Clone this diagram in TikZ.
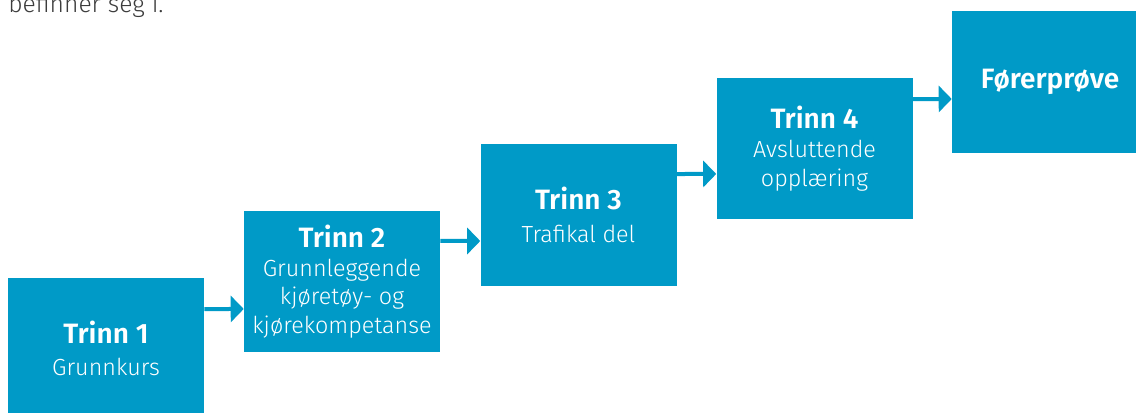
\documentclass[tikz,border=0pt]{standalone}
\usepackage{fontspec}
\setmainfont{Fira Sans Light}[BoldFont={Fira Sans SemiBold}]
\usetikzlibrary{arrows.meta}
\definecolor{trinnblue}{RGB}{0,154,199}
\definecolor{textgrey}{RGB}{60,60,60}

\begin{document}
\begin{tikzpicture}[x=0.75pt, y=-0.75pt,
  stage/.style={rectangle, fill=trinnblue, text=white, minimum width=147pt, minimum height=106pt, align=center, inner sep=0pt, font=\fontsize{17.5pt}{21.5pt}\selectfont},
  arr/.style={draw=trinnblue, line width=3pt, -{Triangle[length=9.75pt, width=19.5pt]}}]

\clip (0,0) rectangle (1136,412);

\node[anchor=base west, inner sep=0pt, text=textgrey, font=\fontsize{18.5pt}{22pt}\selectfont] (intro) at (8,12) {befinner seg i.};

\node[stage] (t1) at (106, 348.5) {{\bfseries\fontsize{21pt}{22pt}\selectfont Trinn 1}\\[3pt]Grunnkurs};
\node[stage] (t2) at (342, 281.5) {{\bfseries\fontsize{21pt}{22pt}\selectfont Trinn 2}\\Grunnleggende\\kjøretøy- og\\kjørekompetanse};
\node[stage] (t3) at (578.5, 215) {{\bfseries\fontsize{21pt}{22pt}\selectfont Trinn 3}\\[3pt]Trafikal del};
\node[stage] (t4) at (814.5, 148.5) {{\bfseries\fontsize{21pt}{22pt}\selectfont Trinn 4}\\Avsluttende\\opplæring};
\node[stage] (fp) at (1050, 82) {\bfseries\fontsize{21pt}{22pt}\selectfont Førerprøve};

\draw[arr] ([yshift=29.6pt]t1.east) -- ([yshift=-20.6pt]t2.west);
\draw[arr] ([yshift=30.4pt]t2.east) -- ([yshift=-19.5pt]t3.west);
\draw[arr] ([yshift=30.75pt]t3.east) -- ([yshift=-19.1pt]t4.west);
\draw[arr] ([yshift=37.1pt]t4.east) -- ([yshift=-12.75pt]fp.west);

\end{tikzpicture}
\end{document}
